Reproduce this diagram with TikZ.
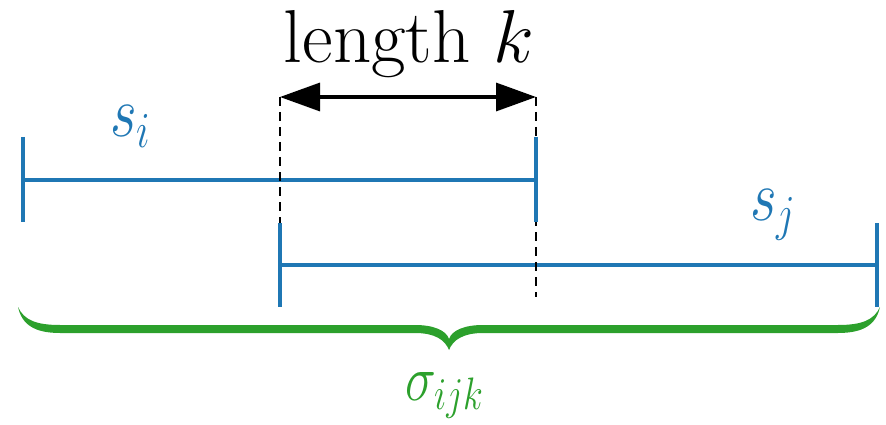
\RequirePackage{fix-cm}
\documentclass[tikz,border=0pt]{standalone}
\usepackage{graphicx}
\usetikzlibrary{arrows.meta}
\definecolor{tabblue}{HTML}{1F77B4}
\definecolor{tabgreen}{HTML}{2CA02C}
\begin{document}
\begin{tikzpicture}[x=1pt,y=-1pt,
  seg/.style={draw=tabblue,line width=3.2pt},
  guide/.style={draw=black,line width=2.8pt,dash pattern=on 9pt off 6pt},
  dimarrow/.style={draw=black,line width=3.4pt,{Triangle[length=40pt,width=28pt]}-{Triangle[length=40pt,width=28pt]}},
  lbl/.style={inner sep=0pt,anchor=base west}]
\useasboundingbox (0,0) rectangle (886,425);
% coordinates
\coordinate (aL) at (280,97);
\coordinate (aR) at (536,97);
\coordinate (dLb) at (280,223);
\coordinate (dRb) at (536,297);
\coordinate (siL) at (23,180);
\coordinate (siR) at (536,180);
\coordinate (siLt) at (23,137);
\coordinate (siLb) at (23,222);
\coordinate (siRt) at (536,137);
\coordinate (siRb) at (536,222);
\coordinate (sjL) at (280,265);
\coordinate (sjR) at (877,265);
\coordinate (sjLt) at (280,223);
\coordinate (sjLb) at (280,307);
\coordinate (sjRt) at (877,223);
\coordinate (sjRb) at (877,307);
% segments
\draw[seg] (siL) -- (siR);
\draw[seg] (sjL) -- (sjR);
% guides
\draw[guide] (aL) -- (dLb);
\draw[guide] (aR) -- (dRb);
% ticks
\draw[seg] (siLt) -- (siLb);
\draw[seg] (siRt) -- (siRb);
\draw[seg] (sjLt) -- (sjLb);
\draw[seg] (sjRt) -- (sjRb);
% dimension arrow
\draw[dimarrow] (aL) -- (aR);
\node[inner sep=0pt,anchor=base] (len) at (409,63) {\fontsize{75}{80}\selectfont length $k$};
% labels
\node[lbl,text=tabblue] (si) at (110,137) {\fontsize{72}{80}\selectfont\scalebox{0.8}[1]{$s_i$}};
\node[lbl,text=tabblue] (sj) at (750,220) {\fontsize{72}{80}\selectfont\scalebox{0.8}[1]{$s_j$}};
% brace
\fill[tabgreen] (18,307) .. controls (22,325) and (35,333) .. (60,333)
  -- (415,333) .. controls (435,333) and (445,340) .. (449,350)
  .. controls (453,340) and (463,333) .. (483,333)
  -- (838,333) .. controls (863,333) and (876,325) .. (880,307)
  .. controls (874,320) and (862,325) .. (838,325)
  -- (483,325) .. controls (465,325) and (452,330) .. (449,339)
  .. controls (446,330) and (433,325) .. (415,325)
  -- (60,325) .. controls (36,325) and (24,320) .. (18,307) -- cycle;
\node[lbl,text=tabgreen] (sig) at (405,400) {\fontsize{65}{70}\selectfont\scalebox{0.8}[1]{$\sigma_{ijk}$}};
\end{tikzpicture}
\end{document}
